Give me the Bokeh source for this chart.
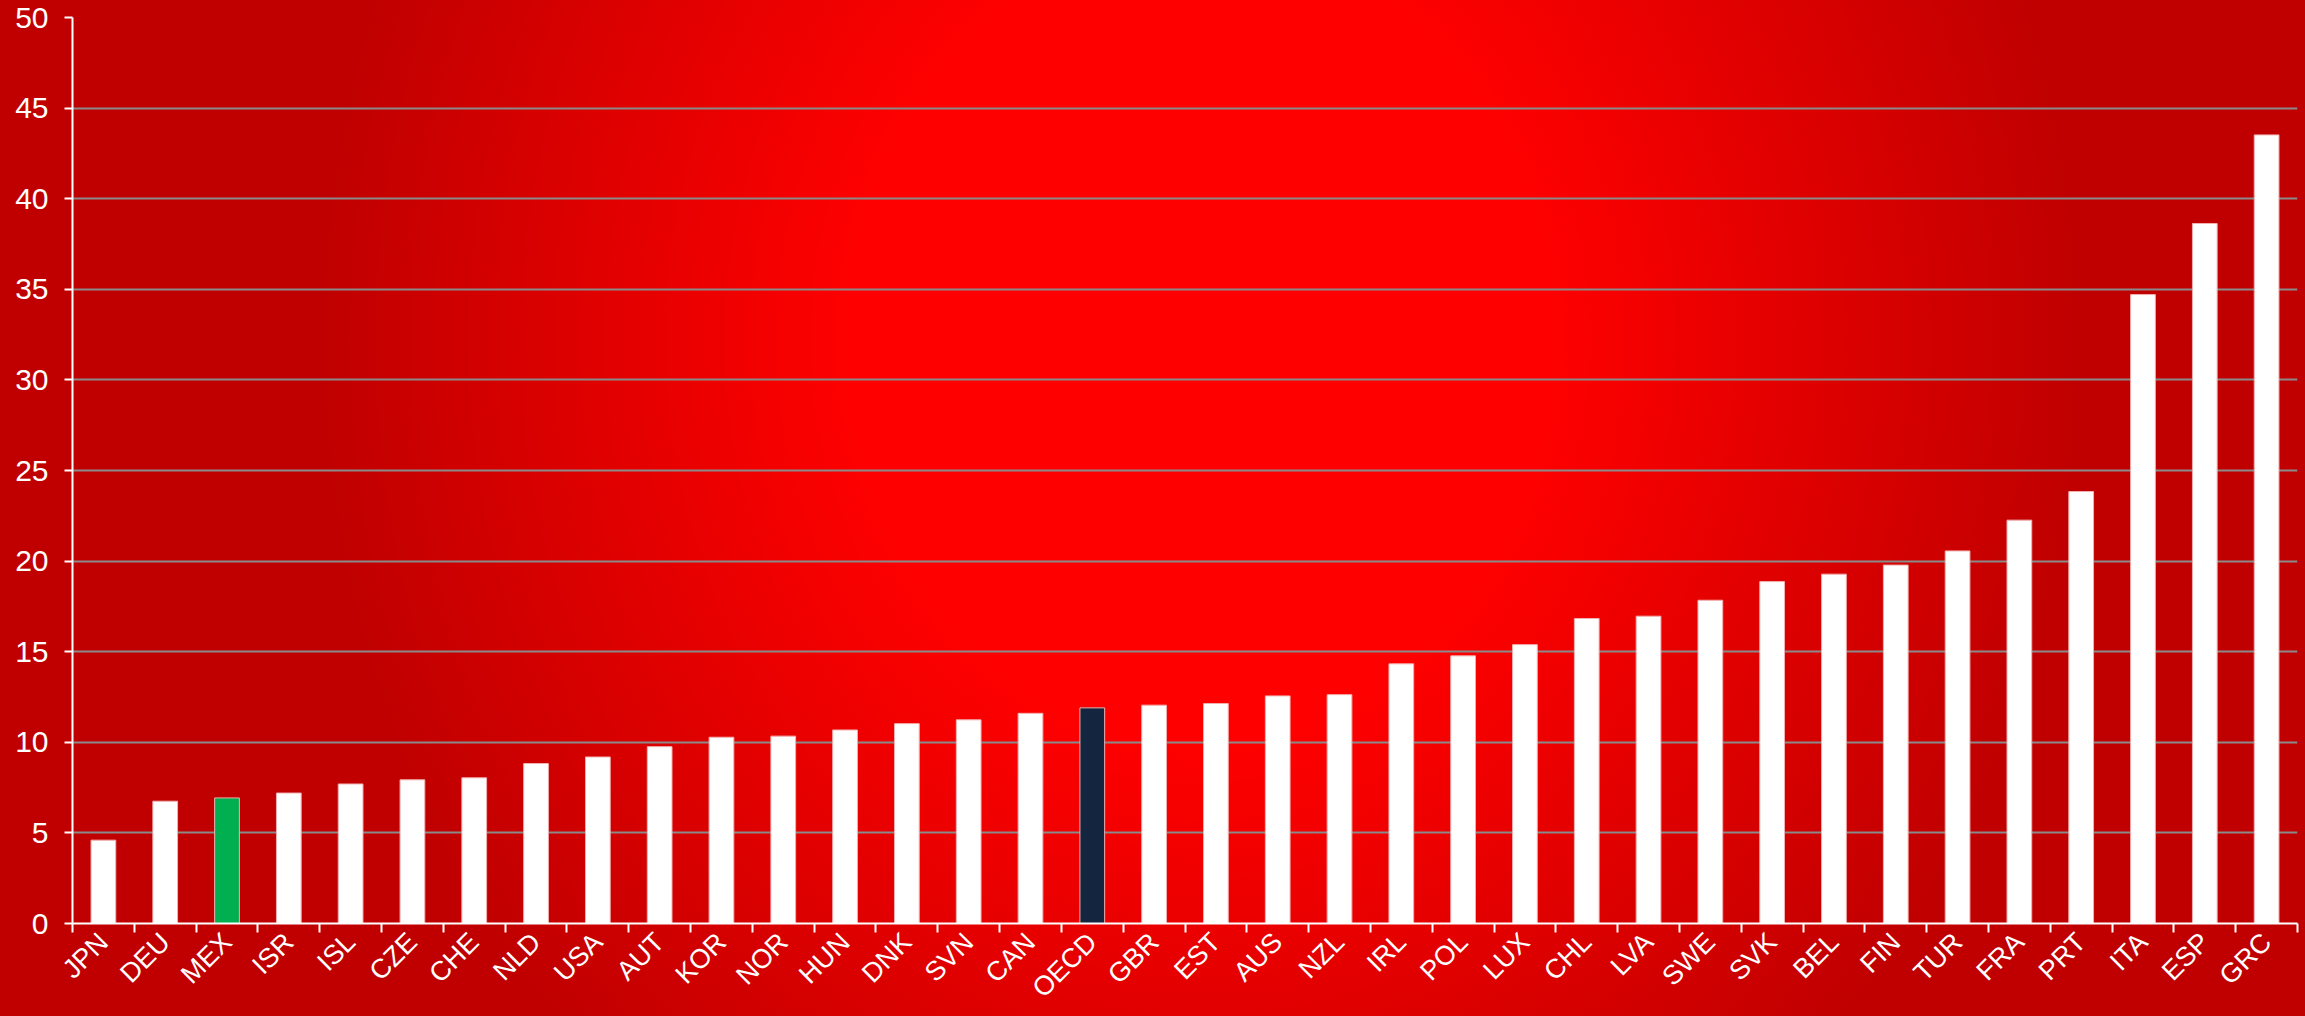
import math
from bokeh.plotting import figure
from bokeh.models import FixedTicker, Range1d, ColumnDataSource
from bokeh.embed import file_html
from bokeh.resources import INLINE

# ---- data ----
countries = ["JPN", "DEU", "MEX", "ISR", "ISL", "CZE", "CHE", "NLD", "USA", "AUT",
             "KOR", "NOR", "HUN", "DNK", "SVN", "CAN", "OECD", "GBR", "EST", "AUS",
             "NZL", "IRL", "POL", "LUX", "CHL", "LVA", "SWE", "SVK", "BEL", "FIN",
             "TUR", "FRA", "PRT", "ITA", "ESP", "GRC"]
values = [4.6, 6.75, 6.93, 7.2, 7.7, 7.93, 8.04, 8.83, 9.19, 9.76,
          10.28, 10.34, 10.68, 11.03, 11.24, 11.6, 11.9, 12.05, 12.14, 12.56,
          12.63, 14.33, 14.77, 15.39, 16.83, 16.96, 17.84, 18.87, 19.28, 19.78,
          20.56, 22.26, 23.84, 34.71, 38.63, 43.52]
y_ticks = [0, 5, 10, 15, 20, 25, 30, 35, 40, 45, 50]

# ---- styling ----
highlight = {"MEX": "#00b050", "OECD": "#14253f"}
colors = [highlight.get(c, "#ffffff") for c in countries]
n = len(countries)
xs = list(range(n))

src = ColumnDataSource(dict(x=xs, top=values, color=colors, name=countries))

p = figure(width=2305, height=1016, output_backend="svg", toolbar_location=None,
           x_range=Range1d(-0.5, n - 0.5), y_range=Range1d(0, 50),
           min_border_left=72, min_border_right=8, min_border_top=17,
           min_border_bottom=93)
p.styles = {"background": "radial-gradient(ellipse 880px 1000px at 1200px 340px, "
                          "#ff0000 0%, #ff0000 39%, #c00000 100%)"}
p.background_fill_color = None
p.border_fill_color = None
p.outline_line_color = None

p.vbar(x="x", top="top", width=0.4, bottom=0, fill_color="color",
       line_color="#f2b0b0", line_width=1, source=src)

# grid
p.xgrid.visible = False
p.ygrid.grid_line_color = "#8a8a8a"
p.ygrid.grid_line_width = 2

font = "Liberation Sans"

# y axis
ya = p.yaxis[0]
ya.ticker = FixedTicker(ticks=y_ticks)
ya.axis_line_color = "white"
ya.axis_line_width = 2
ya.major_tick_line_color = "white"
ya.major_tick_line_width = 2
ya.major_tick_out = 8
ya.major_tick_in = 0
ya.minor_tick_line_color = None
ya.major_label_text_color = "white"
ya.major_label_text_font = font
ya.major_label_text_font_size = "30px"
ya.major_label_standoff = 16

# x axis: ticks between categories, names at category centres
xa = p.xaxis[0]
xa.ticker = FixedTicker(ticks=xs, minor_ticks=[i - 0.5 for i in range(n + 1)])
xa.major_label_overrides = {i: c for i, c in zip(xs, countries)}
xa.axis_line_color = "white"
xa.axis_line_width = 2
xa.major_tick_line_color = None
xa.minor_tick_line_color = "white"
xa.minor_tick_line_width = 2
xa.minor_tick_out = 9
xa.minor_tick_in = 0
xa.major_label_orientation = math.pi / 4
xa.major_label_text_color = "white"
xa.major_label_text_font = font
xa.major_label_text_font_size = "27px"
xa.major_label_standoff = 5

open("out.html", "w").write(file_html(p, INLINE, title="chart"))
